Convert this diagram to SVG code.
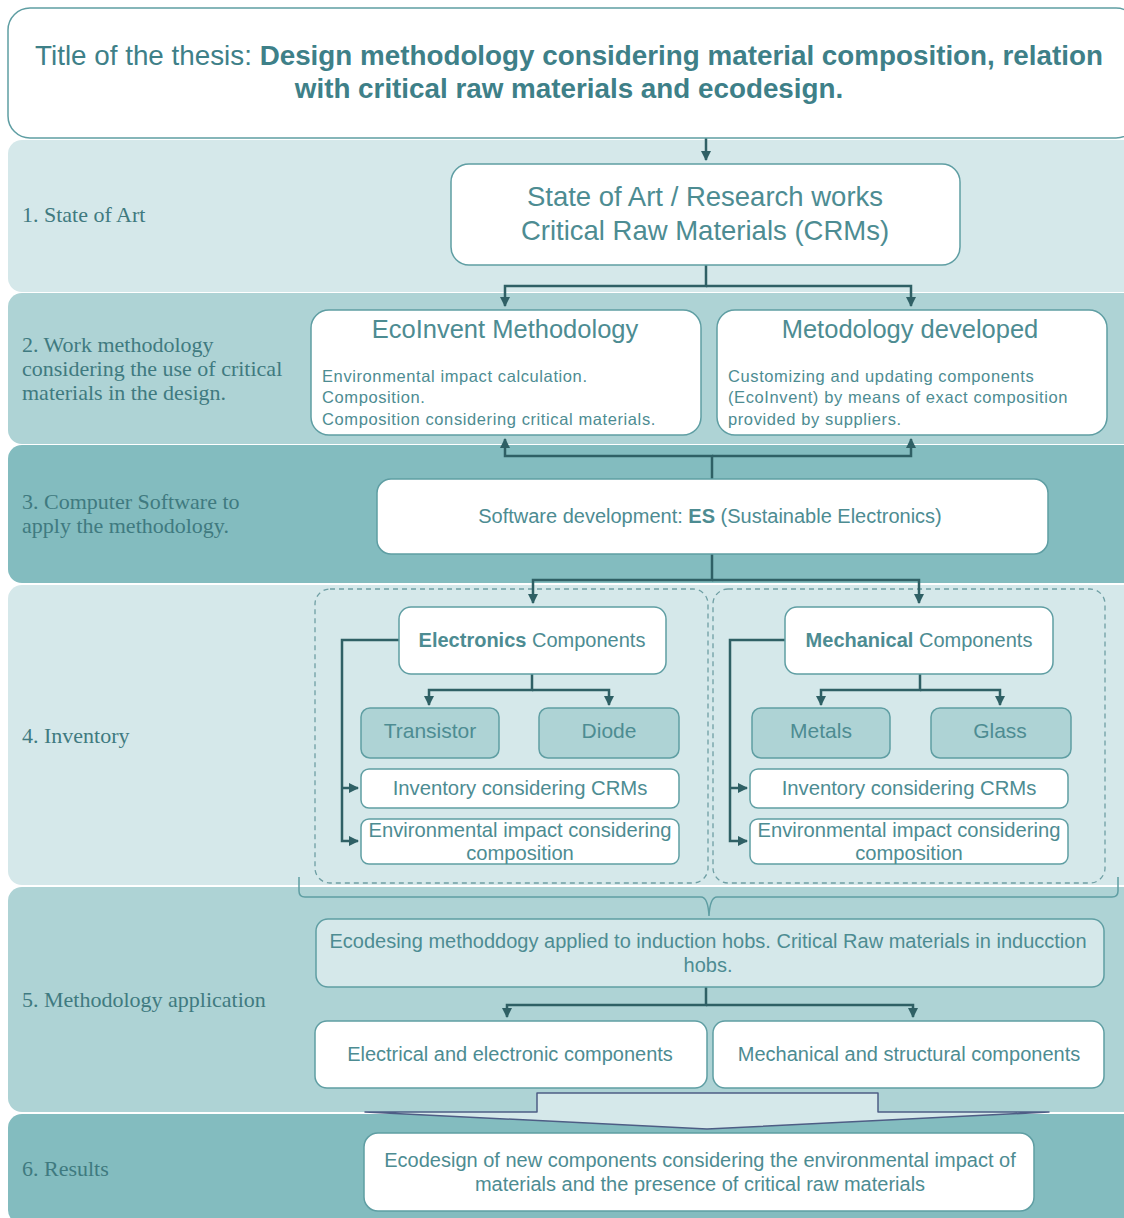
<svg xmlns="http://www.w3.org/2000/svg" width="1124" height="1218" viewBox="0 0 1124 1218">
<defs>
<style>
.band1{fill:#d5e8ea}
.band2{fill:#aed3d5}
.band3{fill:#83bcbf}
.box{fill:#ffffff;stroke:#5f9ea3;stroke-width:1.5}
.dark{fill:#aed3d5;stroke:#5f9ea3;stroke-width:1.5}
.light{fill:#d5e8ea;stroke:#5f9ea3;stroke-width:1.5}
.t{font-family:"Liberation Sans",Arial,sans-serif;fill:#4d8c92;text-anchor:middle}
.tl{font-family:"Liberation Sans",Arial,sans-serif;fill:#4d8c92;font-size:16.5px;letter-spacing:0.6px}
.lab{font-family:"Liberation Serif","DejaVu Serif",serif;fill:#3f7a80;font-size:22px}
.conn{fill:none;stroke:#2f6065;stroke-width:2.5}
.dash{fill:none;stroke:#6f9fa4;stroke-width:1.3;stroke-dasharray:5 4}
.b{font-weight:bold}
</style>
<marker id="ah" viewBox="0 0 10 10" refX="9" refY="5" markerWidth="4" markerHeight="4" orient="auto">
<path d="M0,0 L10,5 L0,10 z" fill="#2f6065"/>
</marker>
</defs>

<rect width="1124" height="1218" fill="#ffffff"/>

<!-- bands -->
<g id="bands">
<rect class="band1" x="8" y="140" width="1130" height="152" rx="14"/>
<rect class="band2" x="8" y="293" width="1130" height="151" rx="14"/>
<rect class="band3" x="8" y="445" width="1130" height="138" rx="14"/>
<rect class="band1" x="8" y="585" width="1130" height="300" rx="14"/>
<rect class="band2" x="8" y="887" width="1130" height="225" rx="14"/>
<rect class="band3" x="8" y="1114" width="1130" height="110" rx="14"/>
</g>

<!-- row labels -->
<g id="labels">
<text class="lab" x="22" y="222">1.  State of Art</text>
<text class="lab" x="22" y="352">2. Work methodology</text>
<text class="lab" x="22" y="376">considering the use of critical</text>
<text class="lab" x="22" y="400">materials in the design.</text>
<text class="lab" x="22" y="509">3. Computer Software to</text>
<text class="lab" x="22" y="533">apply the methodology.</text>
<text class="lab" x="22" y="743">4. Inventory</text>
<text class="lab" x="22" y="1007">5. Methodology application</text>
<text class="lab" x="22" y="1176">6. Results</text>
</g>

<!-- dashed containers -->
<g id="containers">
<rect class="dash" x="315" y="589" width="393" height="294" rx="15"/>
<rect class="dash" x="713" y="589" width="392" height="294" rx="15"/>
</g>

<!-- connectors -->
<g id="connectors">
<path class="conn" d="M706,138 V160" marker-end="url(#ah)"/>
<path class="conn" d="M706,265 V286 H505 V306" marker-end="url(#ah)"/>
<path class="conn" d="M706,286 H911 V306" marker-end="url(#ah)"/>
<path class="conn" d="M712,479 V456 H505 V439" marker-end="url(#ah)"/>
<path class="conn" d="M712,456 H911 V439" marker-end="url(#ah)"/>
<path class="conn" d="M712,554 V580 H533 V603" marker-end="url(#ah)"/>
<path class="conn" d="M712,580 H919 V603" marker-end="url(#ah)"/>
<path class="conn" d="M532,674 V690 H429 V705" marker-end="url(#ah)"/>
<path class="conn" d="M532,690 H609 V705" marker-end="url(#ah)"/>
<path class="conn" d="M920,674 V690 H821 V705" marker-end="url(#ah)"/>
<path class="conn" d="M920,690 H1000 V705" marker-end="url(#ah)"/>
<path class="conn" d="M399,640 H342 V841 H358" marker-end="url(#ah)"/>
<path class="conn" d="M342,788 H358" marker-end="url(#ah)"/>
<path class="conn" d="M785,640 H730 V841 H747" marker-end="url(#ah)"/>
<path class="conn" d="M730,788 H747" marker-end="url(#ah)"/>
<path class="conn" d="M706,987 V1005 H507 V1017" marker-end="url(#ah)"/>
<path class="conn" d="M706,1005 H913 V1017" marker-end="url(#ah)"/>
<path d="M299,877 V891 Q299,897 305,897 H701 Q708,897 709,916 Q710,897 717,897 H1112 Q1118,897 1118,891 V877" fill="none" stroke="#5f9ea3" stroke-width="1.5"/>
<path d="M537,1093 H878 V1112 H1049 L707,1129 L365,1112 H537 Z" fill="#d5e8ea" stroke="#4e5d85" stroke-width="1.5" stroke-linejoin="round"/>
</g>

<!-- nodes -->
<g id="title">
<rect class="box" x="8" y="8" width="1130" height="130" rx="22"/>
<text class="t" x="569" y="65" font-size="27.8" fill="#3e8088" style="fill:#3e8088"><tspan>Title of the thesis: </tspan><tspan class="b">Design methodology considering material composition, relation</tspan></text>
<text class="t b" x="569" y="98" font-size="27.8" style="fill:#3e8088">with critical raw materials and ecodesign.</text>
</g>

<g id="state-of-art">
<rect class="box" x="451" y="164" width="509" height="101" rx="18"/>
<text class="t" x="705" y="206" font-size="27.5">State of Art / Research works</text>
<text class="t" x="705" y="240" font-size="27.5">Critical Raw Materials (CRMs)</text>
</g>

<g id="ecoinvent">
<rect class="box" x="311" y="310" width="390" height="125" rx="18"/>
<text class="t" x="505" y="338" font-size="25.5">EcoInvent Methodology</text>
<text class="tl" x="322" y="382">Environmental impact calculation.</text>
<text class="tl" x="322" y="403">Composition.</text>
<text class="tl" x="322" y="425">Composition considering critical materials.</text>
</g>

<g id="metodology">
<rect class="box" x="717" y="310" width="390" height="125" rx="18"/>
<text class="t" x="910" y="338" font-size="25.5">Metodology developed</text>
<text class="tl" x="728" y="382">Customizing and updating components</text>
<text class="tl" x="728" y="403">(EcoInvent) by means of exact composition</text>
<text class="tl" x="728" y="425">provided by suppliers.</text>
</g>

<g id="software">
<rect class="box" x="377" y="479" width="671" height="75" rx="14"/>
<text class="t" x="710" y="523" font-size="20">Software development: <tspan class="b">ES</tspan> (Sustainable Electronics)</text>
</g>

<g id="electronics">
<rect class="box" x="399" y="607" width="267" height="67" rx="12"/>
<text class="t" x="532" y="647" font-size="20"><tspan class="b">Electronics</tspan> Components</text>
</g>
<g id="transistor">
<rect class="dark" x="361" y="708" width="138" height="50" rx="9"/>
<text class="t" x="430" y="738" font-size="21">Transistor</text>
</g>
<g id="diode">
<rect class="dark" x="539" y="708" width="140" height="50" rx="9"/>
<text class="t" x="609" y="738" font-size="21">Diode</text>
</g>
<g id="inv-e">
<rect class="box" x="361" y="769" width="318" height="39" rx="8"/>
<text class="t" x="520" y="795" font-size="20.3">Inventory considering CRMs</text>
</g>
<g id="env-e">
<rect class="box" x="361" y="819" width="318" height="45" rx="8"/>
<text class="t" x="520" y="837" font-size="20.2">Environmental impact considering</text>
<text class="t" x="520" y="860" font-size="20.2">composition</text>
</g>

<g id="mechanical">
<rect class="box" x="785" y="607" width="268" height="67" rx="12"/>
<text class="t" x="919" y="647" font-size="20"><tspan class="b">Mechanical</tspan> Components</text>
</g>
<g id="metals">
<rect class="dark" x="752" y="708" width="138" height="50" rx="9"/>
<text class="t" x="821" y="738" font-size="21">Metals</text>
</g>
<g id="glass">
<rect class="dark" x="931" y="708" width="140" height="50" rx="9"/>
<text class="t" x="1000" y="738" font-size="21">Glass</text>
</g>
<g id="inv-m">
<rect class="box" x="750" y="769" width="318" height="39" rx="8"/>
<text class="t" x="909" y="795" font-size="20.3">Inventory considering CRMs</text>
</g>
<g id="env-m">
<rect class="box" x="750" y="819" width="318" height="45" rx="8"/>
<text class="t" x="909" y="837" font-size="20.2">Environmental impact considering</text>
<text class="t" x="909" y="860" font-size="20.2">composition</text>
</g>

<g id="ecodesing">
<rect class="light" x="316" y="919" width="788" height="68" rx="12"/>
<text class="t" x="708" y="948" font-size="20">Ecodesing methoddogy applied to induction hobs. Critical Raw materials in inducction</text>
<text class="t" x="708" y="972" font-size="20">hobs.</text>
</g>

<g id="electrical">
<rect class="box" x="315" y="1021" width="392" height="67" rx="12"/>
<text class="t" x="510" y="1061" font-size="20">Electrical and electronic components</text>
</g>
<g id="mech-struct">
<rect class="box" x="713" y="1021" width="391" height="67" rx="12"/>
<text class="t" x="909" y="1061" font-size="20">Mechanical and structural components</text>
</g>

<g id="results">
<rect class="box" x="364" y="1133" width="670" height="78" rx="14"/>
<text class="t" x="700" y="1167" font-size="20">Ecodesign of new components considering the environmental impact of</text>
<text class="t" x="700" y="1191" font-size="20">materials and the presence of critical raw materials</text>
</g>
</svg>
